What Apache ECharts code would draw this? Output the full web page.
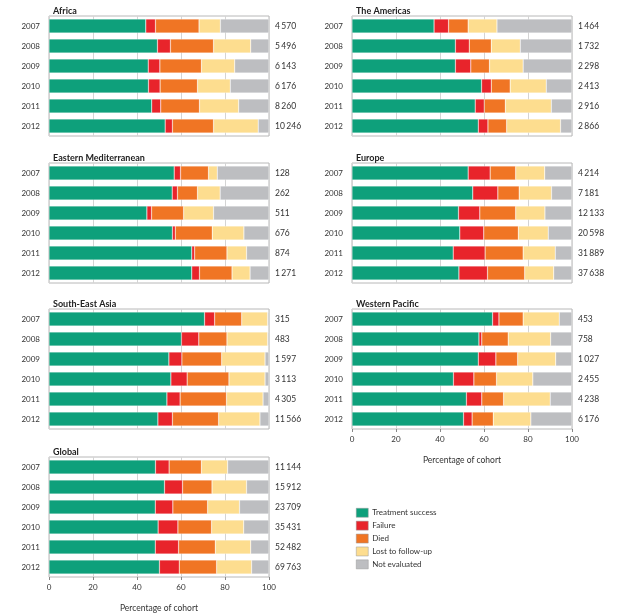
<!DOCTYPE html>
<html><head><meta charset="utf-8">
<script src="https://cdn.jsdelivr.net/npm/echarts@6/dist/echarts.min.js"></script>
<style>html,body{margin:0;padding:0;background:#fff}#c{width:619px;height:615px}</style>
</head><body><div id="c"></div>
<script>
const years = ['2007','2008','2009','2010','2011','2012'];
const outcomes = ['Treatment success','Failure','Died','Lost to follow-up','Not evaluated'];
const ticks = [0,20,40,60,80,100];
const regionNames = ['Africa','The Americas','Eastern Mediterranean','Europe','South-East Asia','Western Pacific','Global'];

// Africa
const africaSuccess = [44.0,49.3,45.1,45.2,46.7,52.8];
const africaFailure = [4.4,5.9,5.3,5.3,4.1,3.3];
const africaDied    = [19.8,19.6,18.9,17.0,17.6,18.7];
const africaLost    = [9.7,16.9,15.1,14.9,17.8,20.3];
const africaNotEval = [22.1,8.3,15.6,17.6,13.8,4.9];
const africaCohort  = [4570,5496,6143,6176,8260,10246];
// The Americas
const americasSuccess = [37.3,47.0,47.0,58.9,56.0,57.4];
const americasFailure = [6.6,6.3,7.0,4.4,4.1,4.4];
const americasDied    = [8.9,10.0,8.5,8.6,9.6,8.5];
const americasLost    = [13.1,13.2,15.3,16.4,20.9,24.5];
const americasNotEval = [34.1,23.5,22.2,11.7,9.4,5.2];
const americasCohort  = [1464,1732,2298,2413,2916,2866];
// Eastern Mediterranean
const emedSuccess = [56.9,56.0,44.5,56.1,64.9,64.9];
const emedFailure = [2.9,2.4,2.1,1.3,1.3,3.5];
const emedDied    = [12.7,9.1,14.6,16.8,14.7,14.8];
const emedLost    = [4.0,10.3,13.6,14.4,8.9,8.2];
const emedNotEval = [23.5,22.2,25.2,11.4,10.2,8.6];
const emedCohort  = [128,262,511,676,874,1271];
// Europe
const europeSuccess = [52.8,54.9,48.4,49.0,46.0,48.6];
const europeFailure = [10.0,11.4,9.7,10.9,14.5,13.0];
const europeDied    = [11.6,9.7,16.3,15.7,17.3,16.9];
const europeLost    = [13.2,14.7,13.3,13.6,14.6,13.2];
const europeNotEval = [12.4,9.3,12.3,10.8,7.6,8.3];
const europeCohort  = [4214,7181,12133,20598,31889,37638];
// South-East Asia
const searSuccess = [70.7,60.2,54.5,55.4,53.6,49.5];
const searFailure = [4.6,7.9,5.9,7.4,6.0,6.6];
const searDied    = [12.3,12.8,18.1,19.0,21.1,21.0];
const searLost    = [11.8,18.5,19.7,16.4,16.6,18.8];
const searNotEval = [0.6,0.6,1.8,1.8,2.7,4.1];
const searCohort  = [315,483,1597,3113,4305,11566];
// Western Pacific
const wproSuccess = [63.9,57.7,57.4,46.1,52.0,50.7];
const wproFailure = [2.9,1.3,8.0,9.3,7.0,3.9];
const wproDied    = [11.0,12.0,9.9,10.3,9.9,9.6];
const wproLost    = [16.4,19.3,17.3,16.5,21.2,17.1];
const wproNotEval = [5.8,9.7,7.4,17.8,9.9,18.7];
const wproCohort  = [453,758,1027,2455,4238,6176];
// Global
const globalSuccess = [48.4,52.5,48.3,49.6,48.3,50.2];
const globalFailure = [6.2,8.2,8.0,9.0,10.6,9.0];
const globalDied    = [14.7,13.4,15.8,15.3,16.7,17.0];
const globalLost    = [11.9,15.7,14.5,14.6,16.1,15.9];
const globalNotEval = [18.8,10.2,13.4,11.5,8.3,7.9];
const globalCohort  = [11144,15912,23709,35431,52482,69763];

const regionSeries = [
  [africaSuccess,africaFailure,africaDied,africaLost,africaNotEval],
  [americasSuccess,americasFailure,americasDied,americasLost,americasNotEval],
  [emedSuccess,emedFailure,emedDied,emedLost,emedNotEval],
  [europeSuccess,europeFailure,europeDied,europeLost,europeNotEval],
  [searSuccess,searFailure,searDied,searLost,searNotEval],
  [wproSuccess,wproFailure,wproDied,wproLost,wproNotEval],
  [globalSuccess,globalFailure,globalDied,globalLost,globalNotEval]
];
const regionCohorts = [africaCohort,americasCohort,emedCohort,europeCohort,searCohort,wproCohort,globalCohort];

const colors = ['#0ea07b','#e8242b','#f07524','#fddd8f','#bdbec1'];
const FONT = 'Lato, "Open Sans", sans-serif';
const fmt = n => String(n).replace(/\B(?=(\d{3})+(?!\d))/g, '\u2006');

const pos = [
  {left:49, top:16}, {left:352, top:16},
  {left:49, top:163}, {left:352, top:163},
  {left:49, top:309}, {left:352, top:309},
  {left:49, top:457}
];
const W = 220, H = 120;
const showAxis = [false,false,false,false,false,true,true];

const grid = [], xAxis = [], yAxis = [], series = [], title = [];
regionNames.forEach((name, i) => {
  const p = pos[i];
  grid.push({left:p.left, top:p.top, width:W, height:H, show:true, borderColor:'#b8b8b8', borderWidth:1, backgroundColor:'#fff', containLabel:false});
  title.push({text:name, left:p.left - 1, top:p.top - 14, textStyle:{fontFamily:FONT, fontSize:9, fontWeight:'bold', color:'#222'}});
  xAxis.push({
    gridIndex:i, type:'value', min:0, max:100, interval:20,
    axisLine:{show:false},
    axisTick:{show:showAxis[i], length:3, lineStyle:{color:'#888'}},
    axisLabel:{show:showAxis[i], fontFamily:FONT, fontSize:8, color:'#333', margin:6,
      formatter: v => ticks.includes(v) ? String(v) : ''},
    splitLine:{show:true, lineStyle:{color:'#d4d4d4', width:1}},
    name: showAxis[i] ? 'Percentage of cohort' : '',
    nameLocation:'middle', nameGap:27,
    nameTextStyle:{fontFamily:FONT, fontSize:8.5, color:'#333'}
  });
  yAxis.push({
    gridIndex:i, type:'category', inverse:true, data:years,
    axisLine:{show:false}, axisTick:{show:false}, splitLine:{show:false},
    axisLabel:{fontFamily:FONT, fontSize:8, color:'#333', margin:9}
  });
  yAxis.push({
    gridIndex:i, type:'category', inverse:true, position:'right', data:regionCohorts[i].map(fmt),
    axisLine:{show:false}, axisTick:{show:false}, splitLine:{show:false},
    axisLabel:{fontFamily:FONT, fontSize:8.5, color:'#333', margin:6, align:'left'}
  });
  regionSeries[i].forEach((arr, k) => {
    series.push({
      type:'bar', name:outcomes[k], stack:'r'+i, xAxisIndex:i, yAxisIndex:2*i,
      data:arr, barWidth:'70%', itemStyle:{color:colors[k], borderColor:'rgba(255,255,255,0.5)', borderWidth:0.5},
      silent:true, animation:false
    });
  });
});

const chart = echarts.init(document.getElementById('c'), null, {renderer:'canvas'});
chart.setOption({
  animation:false,
  backgroundColor:'#fff',
  color:colors,
  title, grid, xAxis, yAxis, series,
  legend:{
    data:outcomes, orient:'vertical', left:351, top:503, itemWidth:12, itemHeight:9, itemGap:3.4,
    icon:'rect', selectedMode:false,
    textStyle:{fontFamily:FONT, fontSize:8, color:'#333', padding:[0,0,0,-1]},
    itemStyle:{borderColor:'#999', borderWidth:0.5}
  }
});
</script></body></html>
